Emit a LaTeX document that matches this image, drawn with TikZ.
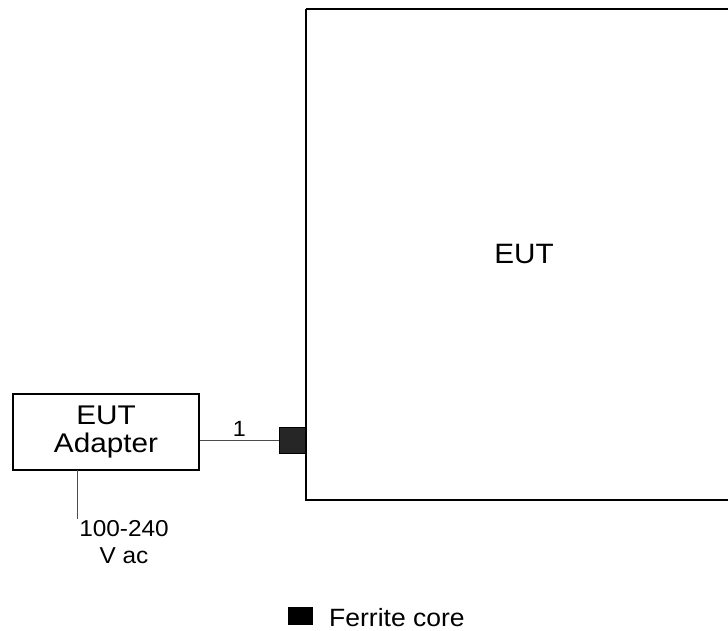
\documentclass[tikz,border=0pt]{standalone}
\usepackage{fontspec}
\setmainfont[FakeStretch=1.06]{Liberation Sans}
\begin{document}
\begin{tikzpicture}[x=1pt,y=-1pt,
  box/.style={draw=black,line width=1.3pt,fill=white},
  core/.style={draw=black,line width=0.8pt,fill=black!85},
  wire/.style={draw=black!70,line width=0.9pt},
  lbl/.style={font=\fontsize{24}{26}\selectfont,inner sep=0pt,align=center}]
\useasboundingbox (0,0) rectangle (728,631);
\path[box] (306,9) -- (730,9) (730,500) -- (306,500) -- (306,9);
\node[lbl,font=\fontsize{28}{30}\selectfont] (eut) at (524,254) {EUT};
\node[box,minimum width=186pt,minimum height=76pt,inner sep=0pt,align=center,
  font=\fontsize{27}{30}\selectfont\addfontfeature{FakeStretch=1.1}] (ad) at (106,432) {EUT\\[-2pt]Adapter};
\node[core,minimum width=26pt,minimum height=26pt,inner sep=0pt] (fc) at (292.5,440) {};
\draw[wire] (ad.east |- fc.west) -- node[lbl,above=3pt,font=\fontsize{22}{24}\selectfont] (n1) {1} (fc.west);
\coordinate (pw) at (77,519);
\draw[wire] (77,470) -- (pw);
\node[lbl,font=\fontsize{23}{27}\selectfont,anchor=north] (v) at (124,520) {100-240\\V ac};
\node[fill=black,minimum width=25pt,minimum height=18pt,inner sep=0pt] (lg) at (300.5,616) {};
\node[lbl,font=\fontsize{25}{27}\selectfont,anchor=west] (lgt) at (329,618) {Ferrite core};
\end{tikzpicture}
\end{document}
